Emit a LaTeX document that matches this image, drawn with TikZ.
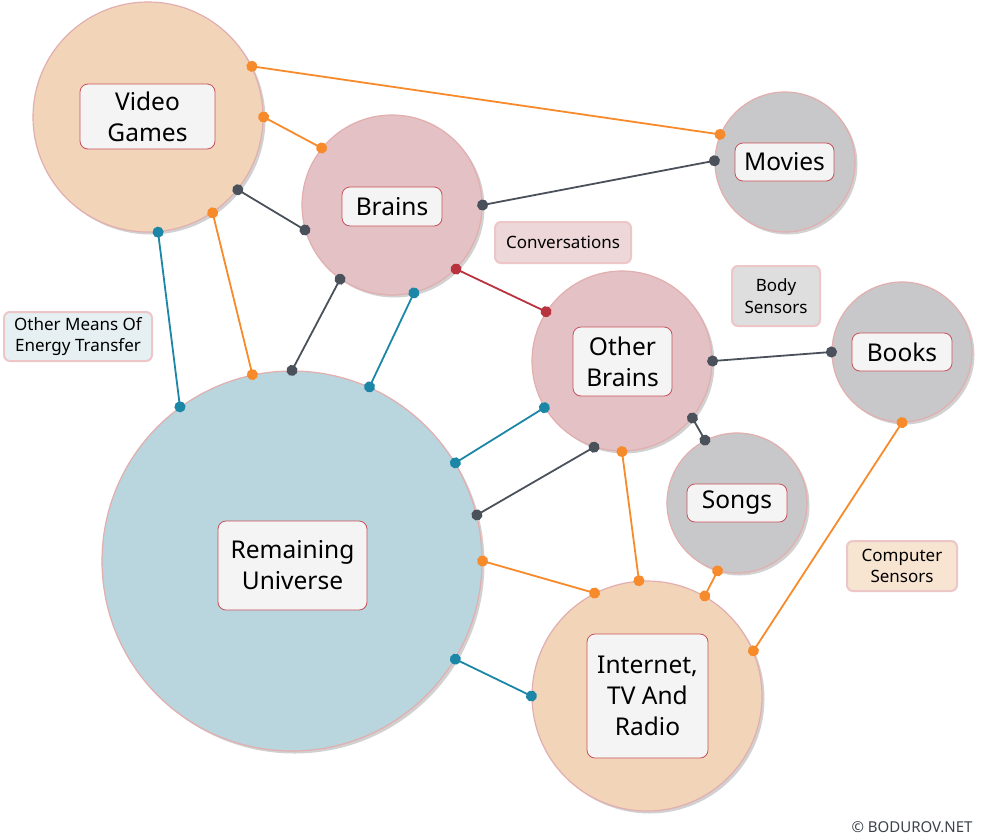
\documentclass[tikz,border=0pt]{standalone}
\usepackage{fontspec}
\setmainfont{Noto Sans}
\usetikzlibrary{arrows.meta,shadows}
\definecolor{orfill}{HTML}{F2D5B9}
\definecolor{pkfill}{HTML}{E3C1C5}
\definecolor{gyfill}{HTML}{C8C8CA}
\definecolor{blfill}{HTML}{B9D5DE}
\definecolor{rimc}{HTML}{E2AEAE}
\definecolor{tagc}{HTML}{C8505A}
\definecolor{tagf}{HTML}{F4F4F4}
\definecolor{orc}{HTML}{F78A2B}
\definecolor{dkc}{HTML}{4A515B}
\definecolor{blc}{HTML}{1B86A6}
\definecolor{rdc}{HTML}{B8333E}
\definecolor{notec}{HTML}{EDC6C8}
\definecolor{cprc}{HTML}{3C424A}
\begin{document}
\begin{tikzpicture}
    [
    x=1pt,y=-1pt,
    ball/.style={circle,draw=rimc,line width=1.2pt,inner sep=0pt,
      drop shadow={shadow xshift=2.5pt,shadow yshift=-2.5pt,fill=black!18,opacity=1}},
    tag/.style={draw=tagc,fill=tagf,rounded corners=8pt,line width=0.8pt,inner sep=0pt,
      align=center,font=\fontsize{24.5}{31}\selectfont},
    note/.style={draw=notec,rounded corners=6pt,line width=2pt,inner sep=0pt,
      align=center,font=\fontsize{17}{21.5}\selectfont},
    link/.style={line width=1.8pt,{Circle[length=11pt]}-{Circle[length=11pt]},
      shorten <=-5.5pt,shorten >=-5.5pt}
    ]
    \useasboundingbox (0,0) rectangle (984,839);
    % circles
    \node (vg) at (148,117) [ball,fill=orfill,minimum size=230pt] {};
    \node (br) at (392,205) [ball,fill=pkfill,minimum size=180pt] {};
    \node (mv) at (785,162) [ball,fill=gyfill,minimum size=140pt] {};
    \node (ob) at (622,361) [ball,fill=pkfill,minimum size=180pt] {};
    \node (bk) at (902,352) [ball,fill=gyfill,minimum size=140pt] {};
    \node (sg) at (737,503) [ball,fill=gyfill,minimum size=140pt] {};
    \node (ru) at (292,561) [ball,fill=blfill,minimum size=380pt] {};
    \node (it) at (647,696) [ball,fill=orfill,minimum size=230pt] {};
    % links
    \draw [link,orc] (vg.26) to (mv.157);
    \draw [link,orc] (vg.0) to (br.141);
    \draw [link,orc] (vg.-56) to (ru.102);
    \draw [link,dkc] (vg.-39) to (br.-164);
    \draw [link,blc] (vg.-85) to (ru.126);
    \draw [link,dkc] (br.0) to (mv.179);
    \draw [link,dkc] (br.-125) to (ru.90);
    \draw [link,blc] (br.-76) to (ru.66);
    \draw [link,rdc] (br.-45) to (ob.147);
    \draw [link,dkc] (ob.0) to (bk.180);
    \draw [link,dkc] (ob.-39) to (sg.117);
    \draw [link,dkc] (ob.-108) to (ru.14);
    \draw [link,blc] (ob.-149) to (ru.31);
    \draw [link,orc] (ob.-90) to (it.94);
    \draw [link,orc] (sg.-106) to (it.60);
    \draw [link,orc] (bk.-90) to (it.23);
    \draw [link,orc] (ru.0) to (it.117);
    \draw [link,blc] (ru.-31) to (it.180);
    % labels
    \node (vgl) at (147.5,116.5) [tag,minimum width=135pt,minimum height=65pt] {Video\\Games};
    \node (brl) at (392,206.5) [tag,minimum width=100pt,minimum height=39pt] {Brains};
    \node (mvl) at (784.5,162) [tag,minimum width=99pt,minimum height=38pt] {Movies};
    \node (obl) at (622.5,361.5) [tag,minimum width=99pt,minimum height=69pt] {Other\\Brains};
    \node (bkl) at (902,352) [tag,minimum width=100pt,minimum height=38pt] {Books};
    \node (sgl) at (737,503) [tag,minimum width=100pt,minimum height=38pt] {Songs};
    \node (rul) at (292.5,565.5) [tag,minimum width=149pt,minimum height=89pt] {Remaining\\Universe};
    \node (itl) at (647.5,696) [tag,minimum width=121pt,minimum height=124pt] {Internet,\\TV And\\Radio};
    % notes
    \node (om) at (78,336.5) [note,fill=blfill!35,minimum width=148pt,minimum height=49pt] {Other Means Of\\Energy Transfer};
    \node (cv) at (563,242.5) [note,fill=pkfill!65,minimum width=136pt,minimum height=41pt] {Conversations};
    \node (bs) at (776,296) [note,fill=gyfill!60,minimum width=88pt,minimum height=60pt] {Body\\Sensors};
    \node (cs) at (902,566) [note,fill=orfill!65,minimum width=110pt,minimum height=50pt] {Computer\\Sensors};
    \node (cpr) at (912,827) [text=cprc,font=\fontsize{15}{17}\selectfont] {\textcopyright{} BODUROV.NET};
\end{tikzpicture}
\end{document}
